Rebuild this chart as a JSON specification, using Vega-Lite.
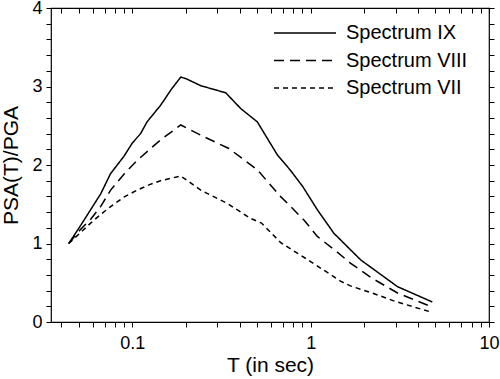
{
  "$schema": "https://vega.github.io/schema/vega-lite/v6.json",
  "autosize": "none",
  "width": 438,
  "height": 314,
  "padding": {"left": 51, "top": 8, "right": 11, "bottom": 57},
  "background": "white",
  "config": {
    "font": "Liberation Sans",
    "view": {"stroke": "black", "strokeWidth": 1.2},
    "axis": {"domain": false, "grid": false, "labelColor": "black", "titleColor": "black", "labelFont": "Liberation Sans", "titleFont": "Liberation Sans", "titleFontWeight": "normal"}
  },
  "datasets": {
    "spectra": [
      {"T": 0.044, "PSA": 1.0, "Spectrum": "Spectrum IX"},
      {"T": 0.05, "PSA": 1.19, "Spectrum": "Spectrum IX"},
      {"T": 0.0664, "PSA": 1.63, "Spectrum": "Spectrum IX"},
      {"T": 0.0755, "PSA": 1.89, "Spectrum": "Spectrum IX"},
      {"T": 0.0897, "PSA": 2.11, "Spectrum": "Spectrum IX"},
      {"T": 0.1, "PSA": 2.28, "Spectrum": "Spectrum IX"},
      {"T": 0.1113, "PSA": 2.4, "Spectrum": "Spectrum IX"},
      {"T": 0.121, "PSA": 2.55, "Spectrum": "Spectrum IX"},
      {"T": 0.144, "PSA": 2.76, "Spectrum": "Spectrum IX"},
      {"T": 0.165, "PSA": 2.96, "Spectrum": "Spectrum IX"},
      {"T": 0.187, "PSA": 3.12, "Spectrum": "Spectrum IX"},
      {"T": 0.2, "PSA": 3.1, "Spectrum": "Spectrum IX"},
      {"T": 0.242, "PSA": 3.01, "Spectrum": "Spectrum IX"},
      {"T": 0.334, "PSA": 2.92, "Spectrum": "Spectrum IX"},
      {"T": 0.405, "PSA": 2.72, "Spectrum": "Spectrum IX"},
      {"T": 0.502, "PSA": 2.55, "Spectrum": "Spectrum IX"},
      {"T": 0.65, "PSA": 2.13, "Spectrum": "Spectrum IX"},
      {"T": 0.772, "PSA": 1.93, "Spectrum": "Spectrum IX"},
      {"T": 0.9, "PSA": 1.73, "Spectrum": "Spectrum IX"},
      {"T": 1.09, "PSA": 1.43, "Spectrum": "Spectrum IX"},
      {"T": 1.35, "PSA": 1.13, "Spectrum": "Spectrum IX"},
      {"T": 1.91, "PSA": 0.79, "Spectrum": "Spectrum IX"},
      {"T": 3.07, "PSA": 0.45, "Spectrum": "Spectrum IX"},
      {"T": 4.81, "PSA": 0.255, "Spectrum": "Spectrum IX"},
      {"T": 0.044, "PSA": 1.0, "Spectrum": "Spectrum VIII"},
      {"T": 0.0513, "PSA": 1.18, "Spectrum": "Spectrum VIII"},
      {"T": 0.0584, "PSA": 1.31, "Spectrum": "Spectrum VIII"},
      {"T": 0.0664, "PSA": 1.47, "Spectrum": "Spectrum VIII"},
      {"T": 0.0756, "PSA": 1.68, "Spectrum": "Spectrum VIII"},
      {"T": 0.0895, "PSA": 1.88, "Spectrum": "Spectrum VIII"},
      {"T": 0.1066, "PSA": 2.06, "Spectrum": "Spectrum VIII"},
      {"T": 0.144, "PSA": 2.32, "Spectrum": "Spectrum VIII"},
      {"T": 0.187, "PSA": 2.51, "Spectrum": "Spectrum VIII"},
      {"T": 0.252, "PSA": 2.36, "Spectrum": "Spectrum VIII"},
      {"T": 0.348, "PSA": 2.21, "Spectrum": "Spectrum VIII"},
      {"T": 0.502, "PSA": 1.94, "Spectrum": "Spectrum VIII"},
      {"T": 0.677, "PSA": 1.6, "Spectrum": "Spectrum VIII"},
      {"T": 0.917, "PSA": 1.3, "Spectrum": "Spectrum VIII"},
      {"T": 1.09, "PSA": 1.09, "Spectrum": "Spectrum VIII"},
      {"T": 1.41, "PSA": 0.89, "Spectrum": "Spectrum VIII"},
      {"T": 1.67, "PSA": 0.75, "Spectrum": "Spectrum VIII"},
      {"T": 2.2, "PSA": 0.56, "Spectrum": "Spectrum VIII"},
      {"T": 3.07, "PSA": 0.37, "Spectrum": "Spectrum VIII"},
      {"T": 4.7, "PSA": 0.2, "Spectrum": "Spectrum VIII"},
      {"T": 0.044, "PSA": 1.0, "Spectrum": "Spectrum VII"},
      {"T": 0.0513, "PSA": 1.14, "Spectrum": "Spectrum VII"},
      {"T": 0.0584, "PSA": 1.26, "Spectrum": "Spectrum VII"},
      {"T": 0.0664, "PSA": 1.37, "Spectrum": "Spectrum VII"},
      {"T": 0.0756, "PSA": 1.47, "Spectrum": "Spectrum VII"},
      {"T": 0.0895, "PSA": 1.59, "Spectrum": "Spectrum VII"},
      {"T": 0.1066, "PSA": 1.68, "Spectrum": "Spectrum VII"},
      {"T": 0.125, "PSA": 1.75, "Spectrum": "Spectrum VII"},
      {"T": 0.144, "PSA": 1.8, "Spectrum": "Spectrum VII"},
      {"T": 0.187, "PSA": 1.86, "Spectrum": "Spectrum VII"},
      {"T": 0.242, "PSA": 1.68, "Spectrum": "Spectrum VII"},
      {"T": 0.341, "PSA": 1.51, "Spectrum": "Spectrum VII"},
      {"T": 0.46, "PSA": 1.32, "Spectrum": "Spectrum VII"},
      {"T": 0.53, "PSA": 1.26, "Spectrum": "Spectrum VII"},
      {"T": 0.68, "PSA": 1.01, "Spectrum": "Spectrum VII"},
      {"T": 1.0, "PSA": 0.77, "Spectrum": "Spectrum VII"},
      {"T": 1.47, "PSA": 0.52, "Spectrum": "Spectrum VII"},
      {"T": 1.67, "PSA": 0.46, "Spectrum": "Spectrum VII"},
      {"T": 2.27, "PSA": 0.36, "Spectrum": "Spectrum VII"},
      {"T": 3.0, "PSA": 0.26, "Spectrum": "Spectrum VII"},
      {"T": 4.6, "PSA": 0.135, "Spectrum": "Spectrum VII"}
    ]
  },
  "data": {"name": "spectra"},
  "layer": [
    {
      "mark": {"type": "line", "color": "black", "strokeWidth": 1.5, "strokeCap": "butt"},
      "encoding": {
        "x": {
          "field": "T", "type": "quantitative",
          "scale": {"type": "log", "domain": [0.035, 10], "nice": false},
          "axis": {"orient": "bottom", "values": [0.04, 0.05, 0.06, 0.07, 0.08, 0.09, 0.1, 0.2, 0.3, 0.4, 0.5, 0.6, 0.7, 0.8, 0.9, 1, 2, 3, 4, 5, 6, 7, 8, 9, 10],
            "labelExpr": "(datum.value == 0.1 || datum.value == 1 || datum.value == 10) ? datum.label : ''",
            "ticks": true, "tickColor": "black", "tickSize": 5,
            "labelPadding": 7, "labelFontSize": 18, "format": "~g", "labelFlush": false, "labelOverlap": false, "title": "T (in sec)", "titleFontSize": 21, "titlePadding": 2}
        },
        "y": {
          "field": "PSA", "type": "quantitative",
          "scale": {"domain": [0, 4], "nice": false, "zero": true},
          "axis": {"orient": "left", "values": [0, 0.2, 0.4, 0.6, 0.8, 1, 1.2, 1.4, 1.6, 1.8, 2, 2.2, 2.4, 2.6, 2.8, 3, 3.2, 3.4, 3.6, 3.8, 4],
            "labelExpr": "round(datum.value) == datum.value ? datum.label : ''", "format": "~g",
            "ticks": true, "tickColor": "black", "tickSize": 5,
            "labelPadding": 4, "labelFontSize": 18, "labelFlush": false, "labelOverlap": false, "title": "PSA(T)/PGA", "titleFontSize": 21, "titlePadding": 10}
        },
        "strokeDash": {
          "field": "Spectrum", "type": "nominal",
          "scale": {"domain": ["Spectrum IX", "Spectrum VIII", "Spectrum VII"], "range": [[1, 0], [10, 6], [5, 4]]},
          "legend": {
            "orient": "none", "legendX": 222, "legendY": 13, "title": null,
            "symbolType": "stroke", "symbolSize": 3844, "symbolStrokeWidth": 1.5, "symbolStrokeColor": "black",
            "clipHeight": 24, "rowPadding": 3.5,
            "labelFontSize": 20, "labelColor": "black", "labelOffset": 9, "padding": 0, "labelLimit": 300
          }
        }
      }
    },
    {
      "mark": {"type": "point", "opacity": 0},
      "encoding": {
        "x": {"field": "T", "type": "quantitative",
          "axis": {"orient": "top", "values": [0.04, 0.05, 0.06, 0.07, 0.08, 0.09, 0.1, 0.2, 0.3, 0.4, 0.5, 0.6, 0.7, 0.8, 0.9, 1, 2, 3, 4, 5, 6, 7, 8, 9, 10], "labels": false, "title": null, "ticks": true, "tickColor": "black", "tickSize": -5}},
        "y": {"field": "PSA", "type": "quantitative",
          "axis": {"orient": "right", "values": [0, 0.2, 0.4, 0.6, 0.8, 1, 1.2, 1.4, 1.6, 1.8, 2, 2.2, 2.4, 2.6, 2.8, 3, 3.2, 3.4, 3.6, 3.8, 4], "labels": false, "title": null, "ticks": true, "tickColor": "black", "tickSize": 5}}
      }
    }
  ],
  "resolve": {"axis": {"x": "independent", "y": "independent"}}
}
